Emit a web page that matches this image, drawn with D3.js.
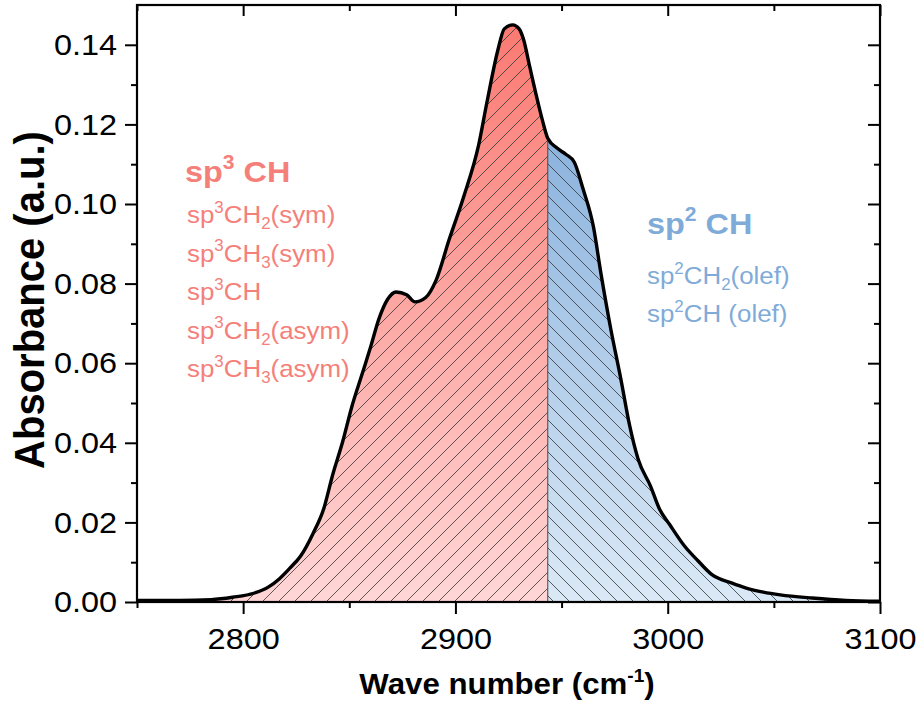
<!DOCTYPE html>
<html lang="en">
<head>
<meta charset="UTF-8">
<title>IR Absorbance</title>
<script src="https://d3js.org/d3.v7.min.js"></script>
<style>
  body { margin: 0; background: #fff; }
  svg { display: block; font-family: "Liberation Sans", Arial, sans-serif; }
</style>
</head>
<body>
<div id="chart"></div>
<script>
// spectrum
const waveNumber = [2750, 2770, 2785, 2795, 2805, 2812, 2817, 2822, 2827, 2833, 2838, 2842, 2847, 2851,
  2856, 2860, 2864, 2868, 2872, 2877, 2881, 2886, 2891, 2897, 2904, 2911, 2915, 2920, 2923, 2927,
  2930, 2932, 2935, 2938, 2941, 2943.5, 2948, 2952, 2956, 2960, 2965, 2968.5, 2973, 2978, 2982,
  2986, 2992, 2996, 3001, 3008, 3014, 3021, 3030, 3037, 3045, 3053, 3068, 3084, 3100];
const absorbance = [0.0004, 0.0004, 0.0006, 0.0012, 0.0022, 0.0038, 0.0058, 0.0085, 0.0115, 0.0173, 0.0235, 0.0316, 0.0405, 0.0487,
  0.0572, 0.0640, 0.0712, 0.0760, 0.0779, 0.0772, 0.0754, 0.0765, 0.0810, 0.0910, 0.1020, 0.1150, 0.1260, 0.1387, 0.1440, 0.1450,
  0.1440, 0.1415, 0.1345, 0.1275, 0.1210, 0.1165, 0.1140, 0.1125, 0.1105, 0.1040, 0.0943, 0.0827, 0.0691, 0.0558, 0.0445,
  0.0360, 0.0290, 0.0235, 0.0194, 0.0140, 0.0105, 0.0068, 0.0048, 0.0035, 0.0025, 0.0018, 0.0010, 0.0004, 0.0002];
const splitWave = 2943.5;

const xTicks = [2800, 2900, 3000, 3100];
const xMinor = [2750, 2850, 2950, 3050];
const yTicks = [0, 0.02, 0.04, 0.06, 0.08, 0.10, 0.12, 0.14];
const yMinor = [0.01, 0.03, 0.05, 0.07, 0.09, 0.11, 0.13];

// ^x = superscript, _x = subscript
const sp3Title = "sp^3 CH";
const sp3Labels = ["sp^3CH_2(sym)", "sp^3CH_3(sym)", "sp^3CH", "sp^3CH_2(asym)", "sp^3CH_3(asym)"];
const sp2Title = "sp^2 CH";
const sp2Labels = ["sp^2CH_2(olef)", "sp^2CH (olef)"];

const width = 924, height = 717;
const plotL = 137, plotR = 880, plotT = 5, plotB = 602;
const sx = 1.08; // the original lettering is a little wider than Arial

const svg = d3.select("#chart").append("svg")
  .attr("width", width).attr("height", height);

const x = d3.scaleLinear().domain([2750, 3100]).range([plotL, plotR]);
const y = d3.scaleLinear().domain([0, 0.15]).range([plotB, plotT]);

const data = waveNumber.map((w, i) => ({ w: w, a: absorbance[i] }));

const defs = svg.append("defs");

function gradient(id, c1, c2) {
  const g = defs.append("linearGradient").attr("id", id)
    .attr("gradientUnits", "userSpaceOnUse")
    .attr("x1", 0).attr("x2", 0).attr("y1", y(0.145)).attr("y2", y(0));
  g.append("stop").attr("offset", 0).attr("stop-color", c1);
  g.append("stop").attr("offset", 1).attr("stop-color", c2);
}
gradient("gradRed", "#fa7a72", "#ffd6d6");
gradient("gradBlue", "#78a6d8", "#dbe9f6");

function hatch(id, d) {
  const p = defs.append("pattern").attr("id", id)
    .attr("patternUnits", "userSpaceOnUse").attr("width", 16).attr("height", 16);
  p.append("path").attr("d", d)
    .attr("stroke", "#333").attr("stroke-width", 0.8).attr("fill", "none");
}
hatch("hatchRed", "M-4,4 L4,-4 M0,16 L16,0 M12,20 L20,12");
hatch("hatchBlue", "M-4,12 L4,20 M0,0 L16,16 M12,-4 L20,4");

defs.append("clipPath").attr("id", "clipLeft").append("rect")
  .attr("x", plotL).attr("y", plotT).attr("width", x(splitWave) - plotL).attr("height", plotB - plotT);
defs.append("clipPath").attr("id", "clipRight").append("rect")
  .attr("x", x(splitWave)).attr("y", plotT).attr("width", plotR - x(splitWave)).attr("height", plotB - plotT);

const area = d3.area().x(d => x(d.w)).y0(y(0)).y1(d => y(d.a)).curve(d3.curveMonotoneX);
const line = d3.line().x(d => x(d.w)).y(d => y(d.a)).curve(d3.curveMonotoneX);

[["clipLeft", "gradRed", "hatchRed"], ["clipRight", "gradBlue", "hatchBlue"]].forEach(s => {
  const g = svg.append("g").attr("clip-path", `url(#${s[0]})`);
  g.append("path").datum(data).attr("d", area).attr("fill", `url(#${s[1]})`);
  g.append("path").datum(data).attr("d", area).attr("fill", `url(#${s[2]})`);
});

// divider between the two regions
const splitVal = absorbance[waveNumber.indexOf(splitWave)];
svg.append("line")
  .attr("x1", x(splitWave)).attr("x2", x(splitWave))
  .attr("y1", y(0)).attr("y2", y(splitVal))
  .attr("stroke", "#444").attr("stroke-width", 1);

svg.append("path").datum(data).attr("d", line)
  .attr("fill", "none").attr("stroke", "#000").attr("stroke-width", 3.4)
  .attr("stroke-linejoin", "round");

// axes
function styleAxis(g) {
  g.selectAll("path").remove();
  g.selectAll("line").attr("stroke", "#000").attr("stroke-width", 2);
  g.selectAll("text").filter(function() { return this.textContent === ""; }).remove();
  g.selectAll("text").attr("font-size", 30).attr("fill", "#000")
    .attr("x", function() { return +d3.select(this).attr("x") / sx; })
    .attr("transform", `scale(${sx},1)`);
}

svg.append("g").attr("transform", `translate(0,${plotB})`)
  .call(d3.axisBottom(x).tickValues(xTicks).tickSize(12).tickPadding(14).tickFormat(d3.format("d")))
  .call(styleAxis);
svg.append("g").attr("transform", `translate(0,${plotB})`)
  .call(d3.axisBottom(x).tickValues(xMinor).tickSize(6).tickFormat(""))
  .call(styleAxis);
svg.append("g").attr("transform", `translate(0,${plotT})`)
  .call(d3.axisBottom(x).tickValues(xTicks).tickSize(11).tickFormat(""))
  .call(styleAxis);
svg.append("g").attr("transform", `translate(0,${plotT})`)
  .call(d3.axisBottom(x).tickValues(xMinor).tickSize(6).tickFormat(""))
  .call(styleAxis);

svg.append("g").attr("transform", `translate(${plotL},0)`)
  .call(d3.axisLeft(y).tickValues(yTicks).tickSize(12).tickPadding(8).tickFormat(d3.format(".2f")))
  .call(styleAxis);
svg.append("g").attr("transform", `translate(${plotL},0)`)
  .call(d3.axisLeft(y).tickValues(yMinor).tickSize(6).tickFormat(""))
  .call(styleAxis);
svg.append("g").attr("transform", `translate(${plotR},0)`)
  .call(d3.axisLeft(y).tickValues(yTicks).tickSize(12).tickFormat(""))
  .call(styleAxis);
svg.append("g").attr("transform", `translate(${plotR},0)`)
  .call(d3.axisLeft(y).tickValues(yMinor).tickSize(6).tickFormat(""))
  .call(styleAxis);

// frame
svg.append("rect").attr("x", plotL).attr("y", plotT)
  .attr("width", plotR - plotL).attr("height", plotB - plotT)
  .attr("fill", "none").attr("stroke", "#000").attr("stroke-width", 2.2);

// axis titles
svg.append("text")
  .attr("transform", `translate(44,300) rotate(-90) scale(1,${sx})`)
  .attr("text-anchor", "middle").attr("font-size", 40).attr("font-weight", "bold")
  .text("Absorbance (a.u.)");

const xt = svg.append("text").attr("transform", "translate(507,694) scale(1.06,1)")
  .attr("text-anchor", "middle").attr("font-size", 29.5).attr("font-weight", "bold");
xt.append("tspan").text("Wave number (cm");
xt.append("tspan").attr("dy", -12).attr("font-size", 18).text("-1");
xt.append("tspan").attr("dy", 12).text(")");

// text with ^sup and _sub markers; the baseline is restored on the next run
function richText(sel, str, size) {
  const re = /([\^_])(\w)/g;
  const small = size * 0.65;
  let last = 0, m, back = 0;
  while ((m = re.exec(str)) !== null) {
    if (m.index > last) {
      sel.append("tspan").attr("dy", back).text(str.slice(last, m.index));
      back = 0;
    }
    const shift = m[1] === "^" ? -size * 0.42 : size * 0.25;
    sel.append("tspan").attr("dy", shift + back).attr("font-size", small).text(m[2]);
    back = -shift;
    last = re.lastIndex;
  }
  if (last < str.length) sel.append("tspan").attr("dy", back).text(str.slice(last));
}

function label(px, py, str, size, bold, color) {
  const t = svg.append("text")
    .attr("transform", `translate(${px},${py}) scale(${sx},1)`)
    .attr("font-size", size).attr("font-weight", bold ? "bold" : "normal")
    .attr("fill", color);
  richText(t, str, size);
}

const red = "#f5807a", blue = "#7fabd9";

label(185, 182, sp3Title, 30, true, red);
sp3Labels.forEach((s, i) => label(187, 223 + i * 38.5, s, 24, false, red));

label(647, 234, sp2Title, 30, true, blue);
sp2Labels.forEach((s, i) => label(647, 284 + i * 38, s, 24, false, blue));
</script>
</body>
</html>
